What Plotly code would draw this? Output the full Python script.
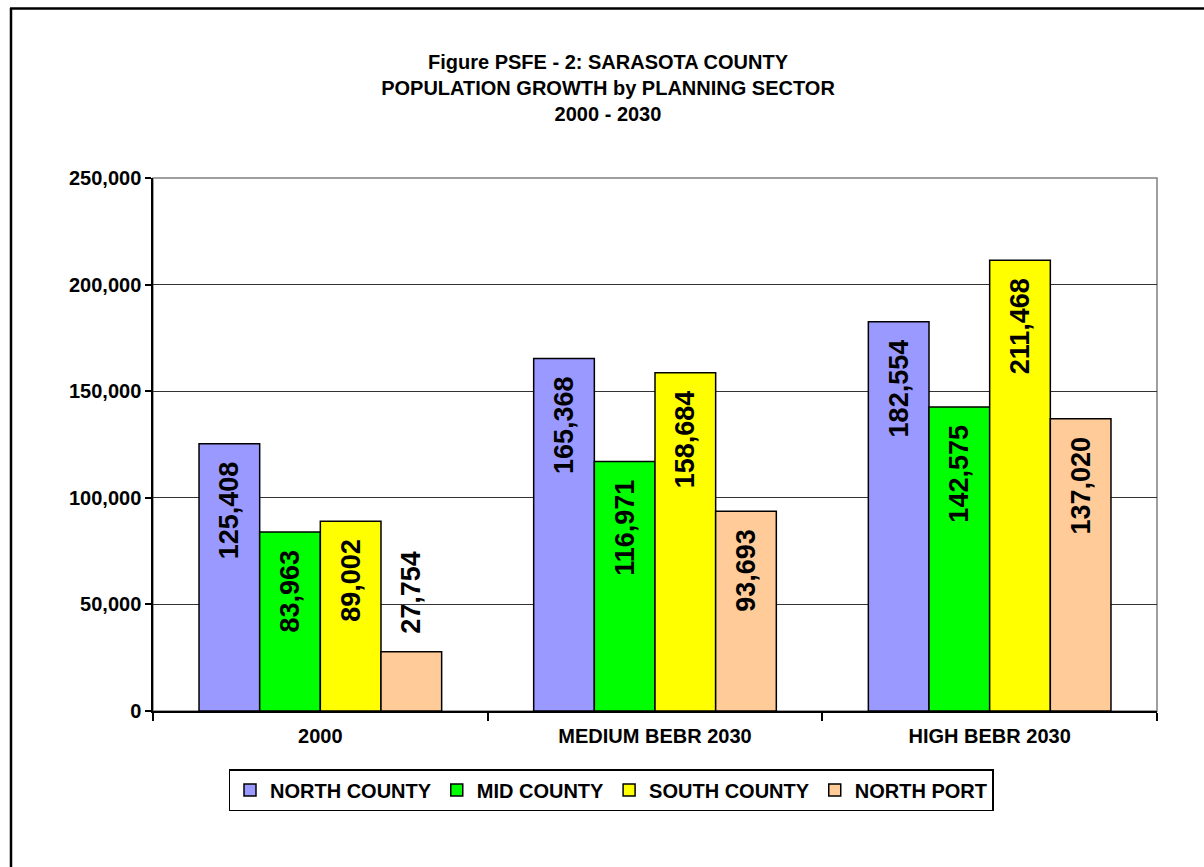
import plotly.graph_objects as go

categories = ["2000", "MEDIUM BEBR 2030", "HIGH BEBR 2030"]
series_names = ["NORTH COUNTY", "MID COUNTY", "SOUTH COUNTY", "NORTH PORT"]
north_county = [125408, 165368, 182554]
mid_county = [83963, 116971, 142575]
south_county = [89002, 158684, 211468]
north_port = [27754, 93693, 137020]
y_ticks = [0, 50000, 100000, 150000, 200000, 250000]

series_values = [north_county, mid_county, south_county, north_port]
colors = ["#9999FF", "#00FF00", "#FFFF00", "#FFCC99"]

FONT = "Liberation Sans, Arial, sans-serif"
W, H = 1204, 867
L, R, T, B = 153, 47, 178, 156
pw, ph = W - L - R, H - T - B

fig = go.Figure()
for name, vals, col in zip(series_names, series_values, colors):
    positions = []
    templates = []
    for v in vals:
        inside = v > 50000
        positions.append("inside" if inside else "outside")
        templates.append("%{y:,}\u00a0\u00a0" if inside else "\u00a0\u00a0%{y:,}")
    fig.add_trace(go.Bar(
        name=name, x=categories, y=vals,
        marker=dict(color=col, line=dict(color="black", width=1.5)),
        textposition=positions, texttemplate=templates,
        insidetextanchor="end", textangle=-90, constraintext="none",
        textfont=dict(family=FONT, size=27, color="black", weight="bold"),
        cliponaxis=False,
    ))

def px_x(p):
    return (p - L) / pw

def px_y(p):
    return (H - B - p) / ph

shapes = [
    dict(type="rect", xref="paper", yref="paper", x0=0, x1=1, y0=0, y1=1,
         line=dict(color="#808080", width=1.5), layer="below"),
    dict(type="line", xref="paper", yref="paper", x0=px_x(11), x1=px_x(11),
         y0=px_y(8), y1=px_y(H + 5), line=dict(color="black", width=2.5)),
    dict(type="line", xref="paper", yref="paper", x0=px_x(10), x1=px_x(W + 5),
         y0=px_y(8.5), y1=px_y(8.5), line=dict(color="black", width=2.5)),
]

fig.update_layout(
    width=W, height=H, autosize=False,
    margin=dict(l=L, r=R, t=T, b=B, pad=0),
    paper_bgcolor="white", plot_bgcolor="white",
    barmode="group", bargap=0.275, bargroupgap=0,
    font=dict(family=FONT, color="black"),
    title=dict(
        text="<b>Figure PSFE - 2: SARASOTA COUNTY<br>POPULATION GROWTH by PLANNING SECTOR<br>2000 - 2030</b>",
        x=608 / W, xanchor="center", xref="container",
        y=1 - 69 / H, yanchor="top", yref="container",
        font=dict(family=FONT, size=20, color="black"),
    ),
    xaxis=dict(
        showline=True, linecolor="black", linewidth=1.5,
        ticks="outside", tickson="boundaries", ticklen=8, tickcolor="black", tickwidth=1.5,
        tickfont=dict(family=FONT, size=20, color="black", weight="bold"),
        ticklabelstandoff=6,
        showgrid=False,
    ),
    yaxis=dict(
        range=[0, 250000], tickvals=y_ticks, tickformat=",",
        showline=True, linecolor="black", linewidth=1.5,
        ticks="outside", ticklen=6, tickcolor="black", tickwidth=1.5,
        tickfont=dict(family=FONT, size=20, color="black", weight="bold"),
        showgrid=True, gridcolor="#333333", gridwidth=1,
        zeroline=False,
    ),
    legend=dict(
        orientation="h", x=px_x(611), xanchor="center", y=px_y(769), yanchor="top",
        bordercolor="black", borderwidth=1.5, bgcolor="white",
        font=dict(family=FONT, size=20, color="black", weight="bold"),
        itemwidth=30, tracegroupgap=0,
    ),
    shapes=shapes,
    showlegend=True,
)

fig.write_html(
    "out.html",
    config={"displayModeBar": False},
    post_script="document.body.style.margin='0';document.body.style.overflow='hidden';",
)
